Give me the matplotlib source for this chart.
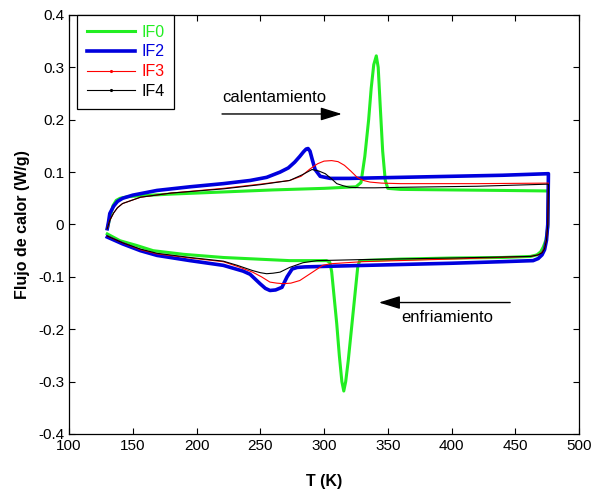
import matplotlib
matplotlib.use("Agg")
import matplotlib.pyplot as plt
from matplotlib.lines import Line2D
import numpy as np

plt.rcParams['font.family'] = ['Liberation Sans', 'DejaVu Sans']

# IF0 - heating / cooling branches (T in K, heat flow in W/g)
if0_heat_T = [130, 132, 134.5, 137, 140, 146, 156, 180, 220, 260, 300, 325, 329, 332, 335, 337, 339, 341,
              342.5, 344, 346, 348, 350, 360, 400, 440, 476]
if0_heat_Q = [-0.008, 0.012, 0.036, 0.046, 0.050, 0.053, 0.055, 0.058, 0.062, 0.066, 0.069, 0.072, 0.080,
              0.130, 0.200, 0.260, 0.305, 0.322, 0.300, 0.230, 0.140, 0.085, 0.069, 0.067, 0.066, 0.065, 0.064]
if0_cool_T = [476, 475.5, 474, 472, 470, 467, 462, 440, 400, 360, 328, 326.5, 324, 321.5, 319, 317, 315.5,
              314, 312, 310, 308, 306, 304.5, 302, 273, 221, 190, 166, 153, 140, 130]
if0_cool_Q = [0.064, -0.005, -0.030, -0.043, -0.052, -0.058, -0.061, -0.063, -0.064, -0.066, -0.069, -0.080,
              -0.140, -0.200, -0.260, -0.300, -0.318, -0.300, -0.250, -0.190, -0.140, -0.090, -0.072, -0.069,
              -0.069, -0.063, -0.057, -0.050, -0.040, -0.031, -0.018]

# IF2
if2_heat_T = [130, 131, 132, 135, 138, 142, 150, 169, 195, 221, 242, 255, 265.5, 272, 277, 281, 284, 286,
              287.5, 289, 291, 293, 297, 305, 320, 360, 400, 440, 476]
if2_heat_Q = [-0.008, 0.005, 0.021, 0.035, 0.044, 0.050, 0.056, 0.065, 0.072, 0.078, 0.084, 0.090, 0.100,
              0.108, 0.119, 0.130, 0.139, 0.144, 0.145, 0.140, 0.122, 0.105, 0.092, 0.088, 0.088, 0.090,
              0.092, 0.094, 0.097]
if2_cool_T = [476, 475.5, 474.5, 473, 471, 468, 464, 440, 400, 350, 300, 285, 279, 275, 271, 267, 262,
              257.6, 254, 249.8, 242, 236.5, 221, 195, 169, 156, 142, 130]
if2_cool_Q = [0.097, 0.000, -0.030, -0.048, -0.058, -0.065, -0.069, -0.071, -0.074, -0.077, -0.080, -0.081,
              -0.082, -0.085, -0.100, -0.120, -0.125, -0.126, -0.122, -0.113, -0.095, -0.089, -0.078, -0.069,
              -0.059, -0.050, -0.037, -0.024]

# IF3
if3_heat_T = [130, 132, 135, 138, 142, 156, 180, 221, 250, 273, 282, 289, 295, 300, 306, 311, 316, 321,
              326, 331, 336, 345, 360, 420, 476]
if3_heat_Q = [-0.008, 0.008, 0.022, 0.032, 0.040, 0.052, 0.060, 0.069, 0.077, 0.084, 0.092, 0.106, 0.116,
              0.121, 0.122, 0.120, 0.113, 0.102, 0.090, 0.084, 0.081, 0.079, 0.078, 0.078, 0.079]
if3_cool_T = [476, 475.5, 474.5, 473, 471, 468, 462, 400, 330, 305, 299, 291, 281, 274, 268, 263, 257.6,
              251, 244, 232, 221, 195, 169, 156, 142, 130]
if3_cool_Q = [0.079, 0.000, -0.028, -0.045, -0.053, -0.058, -0.061, -0.066, -0.071, -0.075, -0.078, -0.091,
              -0.107, -0.112, -0.113, -0.112, -0.110, -0.100, -0.091, -0.080, -0.071, -0.064, -0.056, -0.048,
              -0.035, -0.022]

# IF4
if4_heat_T = [130, 132, 135, 138, 142, 156, 180, 221, 250, 273, 283, 290.6, 296, 301, 306, 310, 315, 320,
              330, 340, 360, 420, 476]
if4_heat_Q = [-0.008, 0.008, 0.022, 0.032, 0.040, 0.052, 0.060, 0.068, 0.076, 0.084, 0.095, 0.105, 0.102,
              0.097, 0.087, 0.078, 0.074, 0.071, 0.070, 0.070, 0.071, 0.073, 0.077]
if4_cool_T = [476, 475.5, 474.5, 473, 471, 468, 462, 400, 330, 294.5, 283.5, 273, 265.5, 260, 255, 250,
              244, 232, 221, 195, 169, 156, 142, 130]
if4_cool_Q = [0.077, 0.000, -0.030, -0.046, -0.054, -0.058, -0.061, -0.064, -0.067, -0.069, -0.073, -0.082,
              -0.091, -0.093, -0.094, -0.092, -0.088, -0.078, -0.070, -0.063, -0.055, -0.047, -0.035, -0.022]

series = [
    ('IF0', if0_heat_T + if0_cool_T, if0_heat_Q + if0_cool_Q, '#22ee22', 2.2, 'None'),
    ('IF2', if2_heat_T + if2_cool_T, if2_heat_Q + if2_cool_Q, '#0000dd', 2.6, 'None'),
    ('IF3', if3_heat_T + if3_cool_T, if3_heat_Q + if3_cool_Q, '#ff0000', 0.8, '.'),
    ('IF4', if4_heat_T + if4_cool_T, if4_heat_Q + if4_cool_Q, '#000000', 0.8, '.'),
]

fig = plt.figure(figsize=(5.96, 4.93), dpi=100)
ax = fig.add_axes([0.1158, 0.1197, 0.8557, 0.8499])

handles = []
for name, T, Q, col, lw, mk in series:
    ax.plot(T, Q, color=col, lw=lw)
    # legend entry shows the small point marker used by the thin curves
    handles.append(Line2D([], [], color=col, lw=lw, marker=mk, markersize=2.5, markevery=[1]))

ax.set_xlim(100, 500)
ax.set_ylim(-0.4, 0.4)
ax.set_xticks(np.arange(100, 501, 50))
ax.set_yticks(np.round(np.arange(-0.4, 0.41, 0.1), 1))
ax.set_yticklabels(['-0.4', '-0.3', '-0.2', '-0.1', '0', '0.1', '0.2', '0.3', '0.4'])
ax.tick_params(direction='in', top=True, right=True, length=4, width=0.8, labelsize=11)
for s in ax.spines.values():
    s.set_linewidth(0.9)

ax.set_xlabel('T (K)', fontsize=11.5, fontweight='bold', labelpad=15)
ax.set_ylabel('Flujo de calor (W/g)', fontsize=11.5, fontweight='bold', labelpad=6)

leg = ax.legend(handles, [s[0] for s in series], loc='upper left', bbox_to_anchor=(0.016, 1.0),
                borderaxespad=0, fontsize=11.5, fancybox=False, edgecolor='black', framealpha=1,
                handlelength=3.0, labelspacing=0.3, borderpad=0.6, handletextpad=0.4)
leg.get_frame().set_linewidth(0.9)
for txt, h in zip(leg.get_texts(), handles):
    txt.set_color(h.get_color())

# arrows and annotations
arrow_style = '-|>,head_length=0.65,head_width=0.2'
ax.annotate('', xy=(314, 0.211), xytext=(220, 0.211),
            arrowprops=dict(arrowstyle=arrow_style, color='black', lw=1.0, mutation_scale=20,
                            shrinkA=0, shrinkB=0))
ax.text(220, 0.243, 'calentamiento', fontsize=12, ha='left', va='center')
ax.annotate('', xy=(343, -0.149), xytext=(446, -0.149),
            arrowprops=dict(arrowstyle=arrow_style, color='black', lw=1.0, mutation_scale=20,
                            shrinkA=0, shrinkB=0))
ax.text(397, -0.178, 'enfriamiento', fontsize=12, ha='center', va='center')

fig.savefig('out.png', dpi=100)
